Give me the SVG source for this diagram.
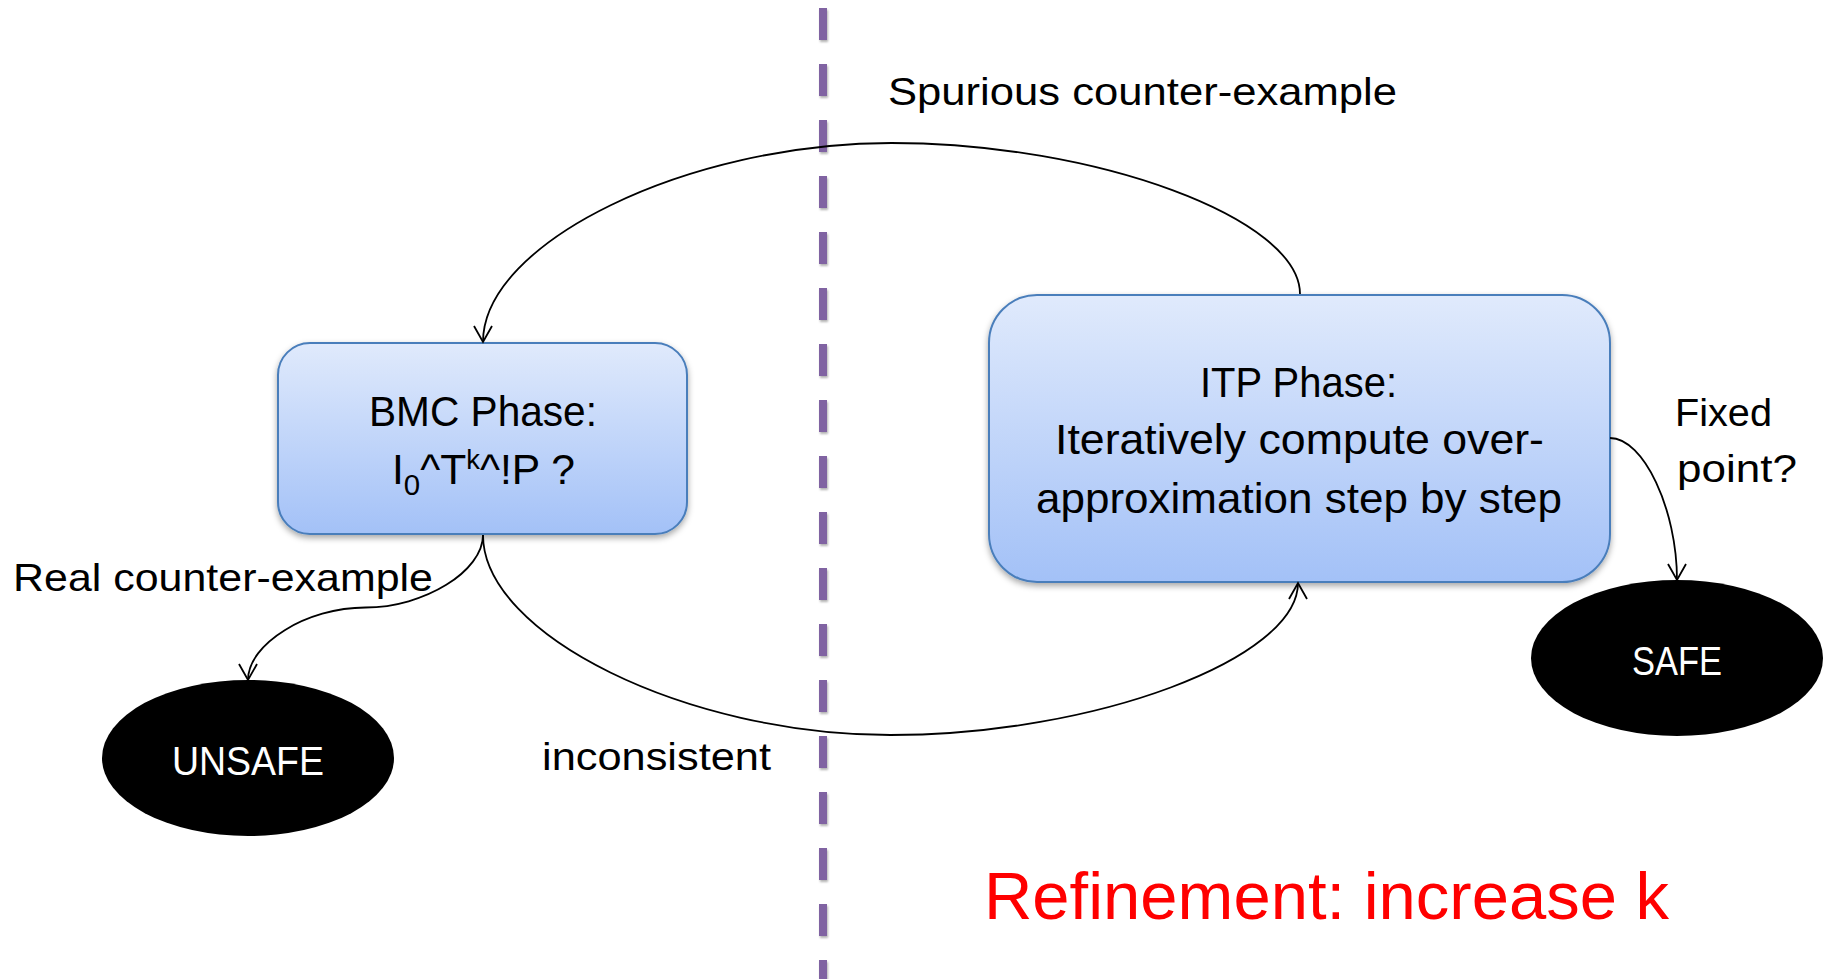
<svg xmlns="http://www.w3.org/2000/svg" width="1832" height="979" viewBox="0 0 1832 979">
  <defs>
    <linearGradient id="boxFill" x1="0" y1="0" x2="0" y2="1">
      <stop offset="0" stop-color="#e0eafc"/>
      <stop offset="1" stop-color="#a3c1f7"/>
    </linearGradient>
    <filter id="boxShadow" x="-10%" y="-10%" width="120%" height="130%">
      <feDropShadow dx="0" dy="3" stdDeviation="3" flood-color="#000" flood-opacity="0.35"/>
    </filter>
    <filter id="dashShadow" filterUnits="userSpaceOnUse" x="800" y="0" width="50" height="979">
      <feDropShadow dx="1" dy="2" stdDeviation="1.2" flood-color="#000" flood-opacity="0.3"/>
    </filter>
    <marker id="arrow" markerUnits="userSpaceOnUse" markerWidth="24" markerHeight="24" viewBox="-20 -12 24 24" refX="0" refY="0" orient="auto">
      <path d="M-16,-9 L0,0 L-16,9" fill="none" stroke="#000" stroke-width="1.8"/>
    </marker>
  </defs>
  <style>
    .box { fill: url(#boxFill); stroke: #4a7ebb; stroke-width: 2; filter: url(#boxShadow); }
    .term { fill: #000; }
    .conn { fill: none; stroke: #000; stroke-width: 1.8; marker-end: url(#arrow); }
    .divider { stroke: #8064a2; stroke-width: 8; stroke-dasharray: 32 24; filter: url(#dashShadow); }
    text { font-family: "Liberation Sans", Arial, sans-serif; }
    .lbl { font-size: 39px; fill: #000; }
    .inbox { font-size: 42px; fill: #000; }
    .termtxt { font-size: 41px; fill: #fff; }
    .note { font-size: 66px; fill: #ff0000; }
  </style>

  <rect width="1832" height="979" fill="#fff"/>

  <!-- phase divider -->
  <path class="divider" d="M823,8 V979"/>

  <!-- BMC phase -->
  <g id="node-bmc">
    <rect class="box" x="278" y="343" width="409" height="191" rx="32" ry="32"/>
    <text class="inbox" x="369" y="426" textLength="228" lengthAdjust="spacingAndGlyphs">BMC Phase:</text>
    <text class="inbox" x="392" y="484" textLength="183" lengthAdjust="spacingAndGlyphs">I<tspan font-size="29" dy="11">0</tspan><tspan dy="-11">^T</tspan><tspan font-size="27" dy="-15">k</tspan><tspan dy="15">^!P ?</tspan></text>
  </g>

  <!-- ITP phase -->
  <g id="node-itp">
    <rect class="box" x="989" y="295" width="621" height="287" rx="48" ry="48"/>
    <text class="inbox" x="1200" y="397" textLength="197" lengthAdjust="spacingAndGlyphs">ITP Phase:</text>
    <text class="inbox" x="1055" y="454" textLength="489" lengthAdjust="spacingAndGlyphs">Iteratively compute over-</text>
    <text class="inbox" x="1036" y="513" textLength="526" lengthAdjust="spacingAndGlyphs">approximation step by step</text>
  </g>

  <!-- terminal results -->
  <g id="node-unsafe">
    <ellipse class="term" cx="248" cy="758" rx="146" ry="78"/>
    <text class="termtxt" x="172" y="775" textLength="152" lengthAdjust="spacingAndGlyphs">UNSAFE</text>
  </g>
  <g id="node-safe">
    <ellipse class="term" cx="1677" cy="658" rx="146" ry="78"/>
    <text class="termtxt" x="1632" y="675" textLength="90" lengthAdjust="spacingAndGlyphs">SAFE</text>
  </g>

  <!-- transitions -->
  <g id="connectors">
    <path id="edge-spurious" class="conn" d="M1300,294 C1300,218.5 1095.75,143 891.5,143 C687.25,143 483,242.5 483,342"/>
    <path id="edge-inconsistent" class="conn" d="M483,535 C483,635 686.75,735 890.5,735 C1094.25,735 1298,659 1298,583"/>
    <path id="edge-real" class="conn" d="M483,535 C483,571.25 424.25,607.5 365.5,607.5 C306.75,607.5 248,643.75 248,680"/>
    <path id="edge-fixed" class="conn" d="M1610,438 C1643.5,438 1677,509 1677,580"/>
  </g>

  <!-- transition labels -->
  <g id="labels">
    <text class="lbl" x="888" y="105" textLength="509" lengthAdjust="spacingAndGlyphs">Spurious counter-example</text>
    <text class="lbl" x="13" y="591" textLength="420" lengthAdjust="spacingAndGlyphs">Real counter-example</text>
    <text class="lbl" x="542" y="770" textLength="229" lengthAdjust="spacingAndGlyphs">inconsistent</text>
    <text class="lbl" x="1675" y="426" textLength="97" lengthAdjust="spacingAndGlyphs">Fixed</text>
    <text class="lbl" x="1677" y="482" textLength="120" lengthAdjust="spacingAndGlyphs">point?</text>
  </g>

  <g id="refinement-note">
    <text class="note" x="984" y="919" textLength="685" lengthAdjust="spacingAndGlyphs">Refinement: increase k</text>
  </g>
</svg>
